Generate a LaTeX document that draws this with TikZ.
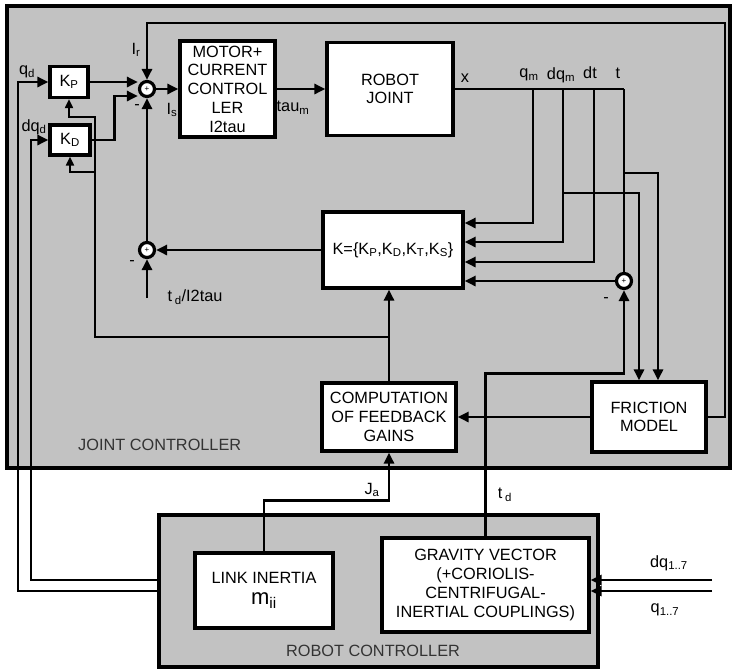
\documentclass[tikz,border=0pt]{standalone}
\usepackage{fontspec}
\setmainfont{Liberation Sans}
\usepackage{tikz}
\usetikzlibrary{shapes,arrows.meta,positioning,calc}

\begin{document}
\begin{tikzpicture}[
    x=1pt, y=-1pt,
    every node/.style={font=\fontsize{16.3}{18.7}\selectfont},
    group/.style={rectangle, draw=black, line width=4pt, fill=black!24},
    blk/.style={rectangle, draw=black, line width=3.2pt, fill=white, align=center, inner sep=1pt},
    sumj/.style={circle, draw=black, line width=3.2pt, fill=white, minimum size=15pt, inner sep=0pt, font=\fontsize{8}{8}\selectfont},
    lbl/.style={inner sep=0pt},
    wire/.style={line width=2.8pt},
    sig/.style={-{Triangle[length=11pt,width=10pt]}, line width=2.8pt},
    gain/.style={-{Triangle[length=9pt,width=8pt]}, line width=1.9pt}
]
    \useasboundingbox (0,0) rectangle (733,670);

    \node [group, minimum width=723pt, minimum height=462pt] (jc) at (368.5,237) {};
    \node [group, minimum width=439pt, minimum height=152pt] (rc) at (378.5,591) {};
    \node [lbl, anchor=west, text=black!80] (jcl) at (78,445) {JOINT CONTROLLER};
    \node [lbl, text=black!80] (rcl) at (373,651) {ROBOT CONTROLLER};

    \node [blk, minimum width=38pt, minimum height=31pt] (KP) at (69,82) {K\textsubscript{P}};
    \node [blk, minimum width=40pt, minimum height=30pt] (KD) at (70,140) {K\textsubscript{D}};
    \node [sumj] (sum1) at (147,89) {+};
    \node [blk, minimum width=95pt, minimum height=96pt] (motor) at (227.5,89) {MOTOR+\\CURRENT\\CONTROL\\LER\\I2tau};
    \node [blk, minimum width=126pt, minimum height=93pt] (joint) at (390,89) {ROBOT\\JOINT};
    \node [blk, minimum width=140pt, minimum height=76pt] (K) at (393,250) {K=\{K\textsubscript{P},K\textsubscript{D},K\textsubscript{T},K\textsubscript{S}\}};
    \node [sumj] (sum2) at (147,250) {+};
    \node [sumj] (sum3) at (624,281) {+};
    \node [blk, minimum width=134pt, minimum height=68pt] (comp) at (389,417) {COMPUTATION\\OF FEEDBACK\\GAINS};
    \node [blk, minimum width=114pt, minimum height=70pt] (fric) at (649,417) {FRICTION\\MODEL};
    \node [blk, minimum width=138pt, minimum height=75pt] (link) at (264,590.5) {LINK INERTIA\\[3pt]{\fontsize{22}{22}\selectfont m\textsubscript{ii}}};
    \node [blk, minimum width=207pt, minimum height=94pt] (grav) at (485.5,585) {GRAVITY VECTOR\\(+CORIOLIS-\\CENTRIFUGAL-\\INERTIAL COUPLINGS)};

    \coordinate (qm) at (533,89);
    \coordinate (dqm) at (563,89);
    \coordinate (dtm) at (594,89);
    \coordinate (tm) at (624,89);
    \coordinate (brq) at (563,193);
    \coordinate (brt) at (624,173);
    \coordinate (ir) at (725,23);
    \coordinate (gk) at (389,337);
    \coordinate (gp) at (95,117);
    \coordinate (gd) at (95,172);
    \coordinate (qdx) at (18,0);
    \coordinate (dqdx) at (31,0);
    \coordinate (tdin) at (147,298);
    \coordinate (in1) at (712,580);
    \coordinate (in2) at (712,591);

    \draw [sig] (rc.west) -| (qdx |- KP.west) -- (KP.west);
    \draw [sig] ([yshift=11pt]rc.west) -| (dqdx |- KD.west) -- (KD.west);
    \draw [sig] (KP.east) -- (KP.east -| sum1.west);
    \draw [sig] (KD.east) -- ++(23,0) |- ([yshift=-7pt]sum1.west);
    \draw [sig] (sum1.east) -- (sum1 -| motor.west);
    \draw [sig] (motor.east) -- (joint.west);
    \draw [wire] (joint.east) -- (tm);
    \draw [sig] (qm) |- ([yshift=27pt]K.east);
    \draw [sig] (dqm) |- ([yshift=8pt]K.east);
    \draw [sig] (dtm) |- ([yshift=-12pt]K.east);
    \draw [wire] (tm) -- (sum3.north);
    \draw [sig] (sum3.west) -- (sum3 -| K.east);
    \draw [sig] (brq) -| ([xshift=-10pt]fric.north);
    \draw [sig] (brt) -| ([xshift=9pt]fric.north);
    \draw [sig] (grav.north) -- ++(0,-163) -| (sum3.south);
    \draw [sig] (fric.east) -| (ir) -| (sum1.north);
    \draw [sig] (fric.west) -- (fric.west -| comp.east);
    \draw [sig] (comp.north) -- (comp.north |- K.south);
    \draw [gain] (gk) -| (gp) -| (KP.south);
    \draw [gain] (gd) -| (KD.south);
    \draw [sig] (K.west) -- (sum2.east);
    \draw [sig] (tdin) -- (sum2.south);
    \draw [sig] (sum2.north) -- (sum1.south);
    \draw [sig] (link.north) -- ++(0,-51) -| (comp.south);
    \draw [sig] (in1) -- (in1 -| grav.east);
    \draw [sig] (in2) -- (in2 -| grav.east);

    \node [lbl] (lir) at (136,50) {I\textsubscript{r}};
    \node [lbl] (lqd) at (27,72) {q\textsubscript{d}};
    \node [lbl] (ldqd) at (34,127) {dq\textsubscript{d}};
    \node [lbl] (lm1) at (137,107) {-};
    \node [lbl] (lis) at (172,110) {I\textsubscript{s}};
    \node [lbl] (ltau) at (293,108) {tau\textsubscript{m}};
    \node [lbl] (lx) at (465,78) {x};
    \node [lbl] (lqm) at (529,75) {q\textsubscript{m}};
    \node [lbl] (ldqm) at (561,75) {dq\textsubscript{m}};
    \node [lbl] (ldt) at (590,73) {dt};
    \node [lbl] (lt) at (618,73) {t};
    \node [lbl] (lm2) at (132,263) {-};
    \node [lbl] (ltdi) at (195,297) {t\,\textsubscript{d}/I2tau};
    \node [lbl] (lm3) at (606,300) {-};
    \node [lbl] (lja) at (372,490) {J\textsubscript{a}};
    \node [lbl] (ltd) at (505,495) {t\,\textsubscript{d}};
    \node [lbl] (ldq17) at (669,563) {dq\textsubscript{1..7}};
    \node [lbl] (lq17) at (665,610) {q\textsubscript{1..7}};
\end{tikzpicture}
\end{document}
